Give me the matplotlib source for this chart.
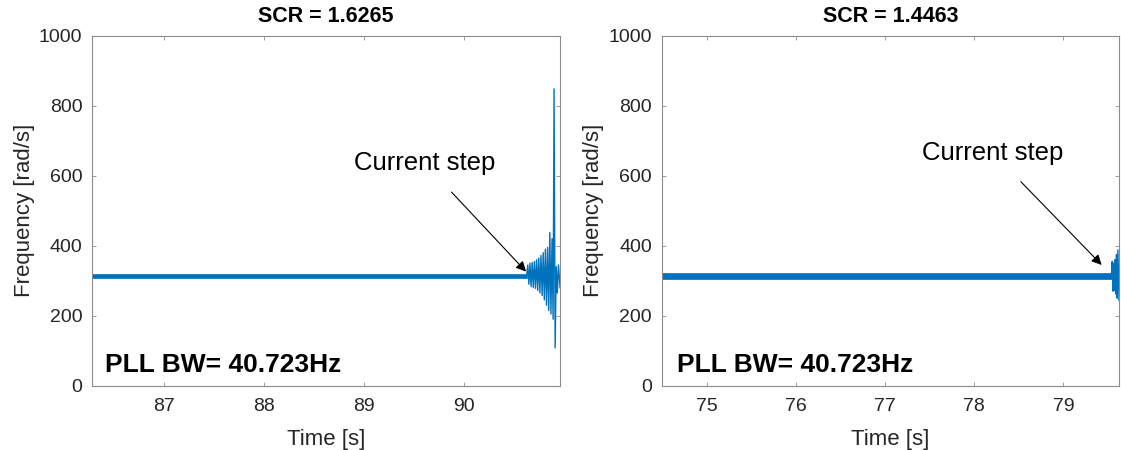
import matplotlib.pyplot as plt

plt.rcParams['font.family'] = ['Liberation Sans', 'DejaVu Sans']

# Panel titles / labels
titles = ['SCR = 1.6265', 'SCR = 1.4463']
pll_text = 'PLL BW= 40.723Hz'

# Left panel (SCR = 1.6265): steady ripple band, then post-step oscillation
t_band_a = [86.286, 90.622]
lo_band_a = [307, 307]
hi_band_a = [319, 319]
t_tail_a = [90.620, 90.632, 90.643, 90.654, 90.665, 90.676, 90.687, 90.698,
            90.709, 90.720, 90.731, 90.742, 90.753, 90.764, 90.775, 90.786,
            90.797, 90.808, 90.819, 90.830, 90.841, 90.852, 90.863, 90.874,
            90.885, 90.894, 90.905, 90.916, 90.927, 90.938, 90.954]
f_tail_a = [313, 345, 290, 350, 283, 352, 280, 355,
            278, 360, 272, 365, 265, 372, 258, 380,
            245, 390, 230, 395, 215, 438, 205, 420,
            190, 848, 108, 340, 265, 345, 280]

# Right panel (SCR = 1.4463)
t_band_b = [74.495, 79.543]
lo_band_b = [304, 304]
hi_band_b = [323, 323]
t_tail_b = [79.540, 79.548, 79.556, 79.564, 79.572, 79.580, 79.588, 79.596,
            79.604, 79.612, 79.624]
f_tail_b = [313, 355, 270, 350, 272, 360, 262, 375, 250, 388, 245]

xlims = [(86.286, 90.954), (74.495, 79.624)]
xticks = [[87, 88, 89, 90], [75, 76, 77, 78, 79]]
yticks = [0, 200, 400, 600, 800, 1000]

# annotation positions (text, arrow tip)
ann_text = [(89.60, 636), (78.21, 665)]
ann_tip = [(90.615, 326), (79.43, 345)]

blue = '#0072BD'
gray = '#262626'
spine_c = '#8c8c8c'

fig = plt.figure(figsize=(11.21, 4.5), dpi=100)
ax1 = fig.add_axes([0.0821, 0.1429, 0.4175, 0.7778])
ax2 = fig.add_axes([0.5903, 0.1429, 0.4079, 0.7778])

panels = [(ax1, t_band_a, lo_band_a, hi_band_a, t_tail_a, f_tail_a),
          (ax2, t_band_b, lo_band_b, hi_band_b, t_tail_b, f_tail_b)]

for i, (ax, tb, lo, hi, tt, ft) in enumerate(panels):
    ax.fill_between(tb, lo, hi, color=blue, linewidth=0.5, edgecolor=blue)
    ax.plot(tt, ft, color=blue, linewidth=1.0)

    ax.set_xlim(*xlims[i])
    ax.set_ylim(0, 1000)
    ax.set_xticks(xticks[i])
    ax.set_yticks(yticks)
    ax.tick_params(direction='in', length=3.2, width=0.6, color=spine_c,
                   labelcolor=gray, labelsize=14, top=True, right=True)
    ax.tick_params(axis='y', pad=7)
    ax.tick_params(axis='x', pad=9)
    for s in ax.spines.values():
        s.set_color(spine_c)
        s.set_linewidth(0.8)

    ax.set_title(titles[i], fontsize=15.5, fontweight='bold', pad=10)
    ax.set_xlabel('Time [s]', fontsize=16, color=gray, labelpad=10)
    ax.set_ylabel('Frequency [rad/s]', fontsize=16, color=gray, labelpad=3)

    ax.text(0.028 if i == 0 else 0.033, 0.058, pll_text, transform=ax.transAxes,
            fontsize=19, fontweight='bold', va='center', ha='left')

    ax.annotate('Current step', xy=ann_tip[i], xytext=ann_text[i],
                fontsize=18.5, ha='center', va='center', color='black',
                arrowprops=dict(arrowstyle='-|>', color='black', lw=0.8,
                                shrinkA=14, shrinkB=0, mutation_scale=15))

fig.savefig('out.png', dpi=100)
